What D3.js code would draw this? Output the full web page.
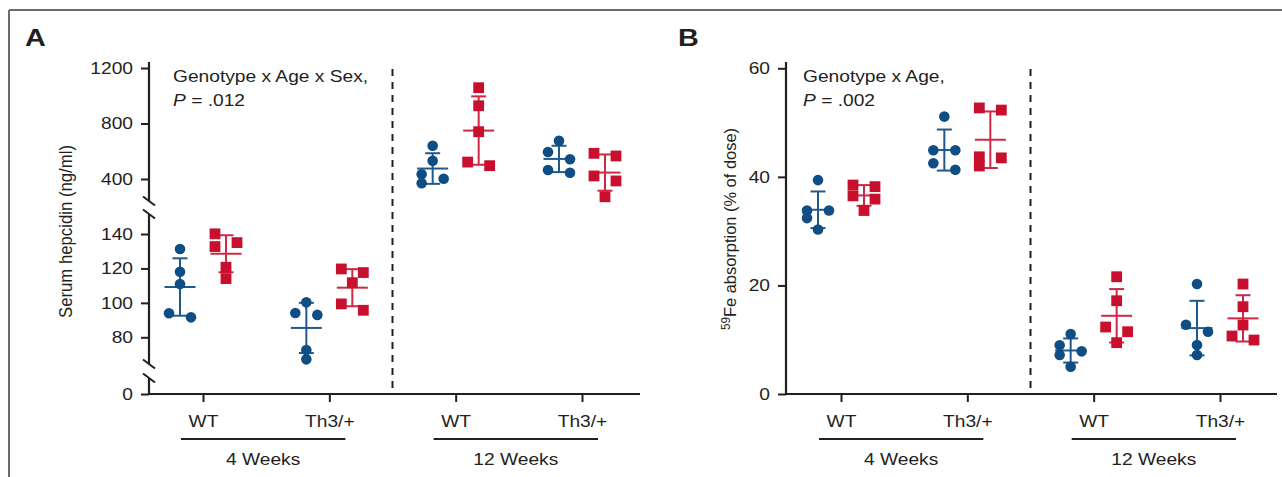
<!DOCTYPE html>
<html><head><meta charset="utf-8">
<script src="https://cdn.jsdelivr.net/npm/d3@7"></script>
<style>
body{margin:0;background:#fff}
text{font-family:"Liberation Sans",Arial,Helvetica,sans-serif;fill:#231f20}
</style>
</head><body><svg id="c" width="1282" height="477"></svg>
<script>
// ---------------- data ----------------
const groupLabels = ["WT", "Th3/+", "WT", "Th3/+"];
const ageLabels = ["4 Weeks", "12 Weeks"];
const seriesNames = ["Male", "Female"];

const hepcidinTicksUpper = [400, 800, 1200];
const hepcidinTicksMid = [80, 100, 120, 140];
const hepcidinTicksLow = [0];
const absorptionTicks = [0, 20, 40, 60];

// Serum hepcidin (ng/ml), per group: WT 4wk, Th3/+ 4wk, WT 12wk, Th3/+ 12wk
const hepcidinBlue = [
  [131.3, 118.1, 111.0, 91.6, 94.0],
  [100.3, 93.0, 94.1, 72.6, 67.2],
  [640, 532, 434, 369, 402],
  [676, 595, 542, 445, 465]
];
const hepcidinRed = [
  [140.1, 132.7, 135.0, 120.7, 114.1],
  [119.7, 117.6, 111.7, 95.7, 99.4],
  [1058, 928, 741, 496, 522],
  [585, 566, 422, 386, 272]
];
// 59Fe absorption (% of dose)
const absorptionBlue = [
  [39.4, 33.8, 33.8, 32.4, 30.3],
  [51.1, 44.9, 44.9, 42.5, 41.3],
  [11.05, 8.97, 7.86, 7.18, 5.03],
  [20.26, 12.76, 11.47, 9.02, 7.18]
];
const absorptionRed = [
  [38.5, 38.2, 36.5, 35.9, 33.8],
  [52.7, 52.3, 43.7, 43.5, 42.0],
  [21.6, 17.18, 12.34, 11.47, 9.45],
  [20.26, 16.08, 12.7, 9.94, 10.68]
];

// ---------------- style / layout ----------------
const SX = 1.2;               // horizontal text stretch seen in the figure
const ink = "#231f20";
const blue = "#0f4e85", blueLine = "#22598d";
const red = "#c8102e", redLine = "#cf2846";
const svg = d3.select("#c");

// frame
svg.append("line").attr("x1", 9).attr("y1", 10).attr("x2", 1282).attr("y2", 10)
  .attr("stroke", "#6b6b6b").attr("stroke-width", 2);
svg.append("line").attr("x1", 9).attr("y1", 10).attr("x2", 9).attr("y2", 477)
  .attr("stroke", "#6b6b6b").attr("stroke-width", 2);

function stext(g, x, y, str, size, anchor, weight) {
  return g.append("text")
    .attr("transform", `translate(${x},${y}) scale(${SX},1)`)
    .attr("text-anchor", anchor || "start")
    .attr("font-size", size)
    .attr("font-weight", weight || "normal")
    .text(str);
}

function jitterOffsets(pys) {
  const idx = d3.range(pys.length).sort((a, b) => pys[a] - pys[b]);
  const off = new Array(pys.length).fill(0);
  let cluster = [idx[0]];
  const flush = () => {
    if (cluster.length > 1) cluster.forEach((k, j) => off[k] = (j % 2 === 0 ? -1 : 1));
  };
  for (let j = 1; j < idx.length; j++) {
    if (pys[idx[j]] - pys[idx[j - 1]] < 9) cluster.push(idx[j]);
    else { flush(); cluster = [idx[j]]; }
  }
  flush();
  return off.map(o => o * 11);
}

function drawPanel(opt) {
  const g = svg.append("g");
  const { axisX, xRight, x, y, blueData, redData } = opt;
  const baseY = 394;

  // panel letter
  stext(g, opt.letterX, 46, opt.letter, 24, "start", "bold");

  // y axis segments
  opt.segments.forEach(s => g.append("line").attr("x1", axisX).attr("x2", axisX)
    .attr("y1", s[0]).attr("y2", s[1]).attr("stroke", ink).attr("stroke-width", 2.2));
  (opt.breaks || []).forEach(b => g.append("line")
    .attr("x1", axisX - 6).attr("y1", b - 4.5).attr("x2", axisX + 6).attr("y2", b + 4.5)
    .attr("stroke", ink).attr("stroke-width", 2));

  // y ticks via d3 axes
  opt.axes.forEach(a => {
    const ax = g.append("g").attr("transform", `translate(${axisX},0)`)
      .call(d3.axisLeft(a.scale).tickValues(a.ticks).tickSize(8).tickFormat(d3.format("d")));
    ax.select(".domain").remove();
    ax.selectAll(".tick line").attr("stroke", ink).attr("stroke-width", 2);
    ax.selectAll(".tick text").attr("x", -16 / SX).attr("dy", "0.34em")
      .attr("transform", `scale(${SX},1)`).attr("font-size", 16)
      .attr("font-family", null).attr("fill", ink);
  });

  // x axis
  g.append("line").attr("x1", axisX - 1).attr("x2", xRight).attr("y1", baseY).attr("y2", baseY)
    .attr("stroke", ink).attr("stroke-width", 2.2);
  const xa = g.append("g").attr("transform", `translate(0,${baseY})`)
    .call(d3.axisBottom(x).tickSize(8).tickFormat(i => groupLabels[i]));
  xa.select(".domain").remove();
  xa.selectAll(".tick line").attr("stroke", ink).attr("stroke-width", 2);
  xa.selectAll(".tick text").attr("y", 0).attr("dy", 0)
    .attr("transform", `translate(0,32.5) scale(${SX},1)`).attr("font-size", 16)
    .attr("font-family", null).attr("fill", ink);

  // age group underlines
  ageLabels.forEach((lab, k) => {
    const x0 = x(2 * k) - 22, x1 = x(2 * k + 1) + 16;
    g.append("line").attr("x1", x0).attr("x2", x1).attr("y1", 439).attr("y2", 439)
      .attr("stroke", ink).attr("stroke-width", 2);
    stext(g, (x0 + x1) / 2, 465, lab, 16, "middle");
  });

  // dashed separator
  const sepX = (x(1) + x(2)) / 2;
  g.append("line").attr("x1", sepX).attr("x2", sepX).attr("y1", 69).attr("y2", baseY)
    .attr("stroke", ink).attr("stroke-width", 2).attr("stroke-dasharray", "7,6");

  // y label
  const yl = g.append("text")
    .attr("transform", `translate(${opt.ylabX},${opt.ylabY}) rotate(-90)`)
    .attr("text-anchor", "middle").attr("font-size", opt.ylabSize)
    .attr("textLength", opt.ylabLen).attr("lengthAdjust", "spacingAndGlyphs");
  opt.ylabel(yl);

  // annotation
  stext(g, opt.annX, 82, opt.annLine1, 16, "start");
  const p = g.append("text")
    .attr("transform", `translate(${opt.annX},106) scale(${SX},1)`).attr("font-size", 16);
  p.append("tspan").attr("font-style", "italic").text("P");
  p.append("tspan").text(" = " + opt.pval);

  // data: error bars then markers
  [[blueData, -23, blue, blueLine, "circle"], [redData, 23, red, redLine, "square"]].forEach(([data, dx, col, lcol, shape]) => {
    data.forEach((vals, i) => {
      const cx = x(i) + dx;
      const m = d3.mean(vals), sd = d3.deviation(vals);
      const eb = g.append("g").attr("stroke", lcol).attr("stroke-width", 2);
      eb.append("line").attr("x1", cx).attr("x2", cx).attr("y1", y(m + sd)).attr("y2", y(m - sd));
      eb.append("line").attr("x1", cx - 15.5).attr("x2", cx + 15.5).attr("y1", y(m)).attr("y2", y(m));
      [m + sd, m - sd].forEach(v => eb.append("line").attr("x1", cx - 7.5).attr("x2", cx + 7.5)
        .attr("y1", y(v)).attr("y2", y(v)));
      const pys = vals.map(y);
      const offs = jitterOffsets(pys);
      vals.forEach((v, k) => {
        const px = cx + offs[k], py = pys[k];
        if (shape === "circle") g.append("circle").attr("cx", px).attr("cy", py).attr("r", 5.3).attr("fill", col);
        else g.append("rect").attr("x", px - 5.4).attr("y", py - 5.4).attr("width", 10.8).attr("height", 10.8).attr("fill", col);
      });
    });
  });
}

// ---------- Panel A ----------
const yUp = d3.scaleLinear().domain([400, 1200]).range([179, 68]);
const yMid = d3.scaleLinear().domain([80, 140]).range([337.3, 234]);
const yLow = d3.scaleLinear().domain([0, 20]).range([394, 360]);
const yA = v => v >= 240 ? yUp(v) : (v >= 50 ? yMid(v) : yLow(v));
const xA = d3.scalePoint().domain(d3.range(4)).range([203, 582]);

drawPanel({
  letter: "A", letterX: 25, axisX: 149, xRight: 640, x: xA, y: yA,
  blueData: hepcidinBlue, redData: hepcidinRed,
  segments: [[62, 201], [214, 364], [378, 395]],
  breaks: [201, 214, 364, 378],
  axes: [{ scale: yUp, ticks: hepcidinTicksUpper }, { scale: yMid, ticks: hepcidinTicksMid }, { scale: yLow, ticks: hepcidinTicksLow }],
  ylabX: 72, ylabY: 231.5, ylabSize: 18.5, ylabLen: 173,
  ylabel: t => t.text("Serum hepcidin (ng/ml)"),
  annX: 173, annLine1: "Genotype x Age x Sex,", pval: ".012"
});

// ---------- Panel B ----------
const yB = d3.scaleLinear().domain([0, 60]).range([394, 68.3]);
const xB = d3.scalePoint().domain(d3.range(4)).range([841, 1220]);

drawPanel({
  letter: "B", letterX: 678, axisX: 786, xRight: 1277, x: xB, y: yB,
  blueData: absorptionBlue, redData: absorptionRed,
  segments: [[62, 395]],
  breaks: [],
  axes: [{ scale: yB, ticks: absorptionTicks }],
  ylabX: 736, ylabY: 229, ylabSize: 17, ylabLen: 202,
  ylabel: t => {
    t.append("tspan").attr("font-size", 12).attr("dy", -6).text("59");
    t.append("tspan").attr("dy", 6).text("Fe absorption (% of dose)");
  },
  annX: 803, annLine1: "Genotype x Age,", pval: ".002"
});
</script>
</body></html>
